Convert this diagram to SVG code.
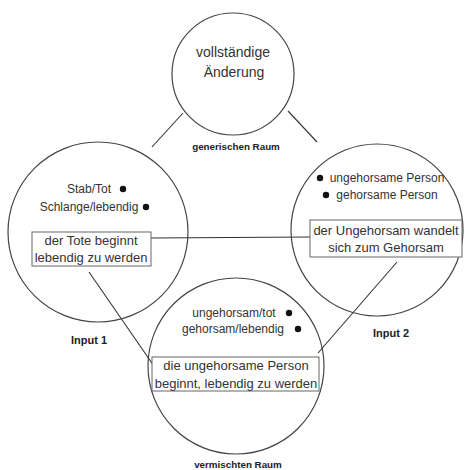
<svg xmlns="http://www.w3.org/2000/svg" width="466" height="470" viewBox="0 0 466 470">
<style>
.c{fill:none;stroke:#444;stroke-width:1.2}
.b{fill:#fff;stroke:#666;stroke-width:1}
.l{fill:none;stroke:#333;stroke-width:1.1}
text{font-family:"Liberation Sans",Arial,sans-serif;fill:#333;text-anchor:middle}
.t14{font-size:14px}
.t12{font-size:12px}
.t13{font-size:13px}
.lab{font-size:9.8px;font-weight:bold;fill:#222}
.inp{font-size:11px;font-weight:bold;fill:#222}
.d{fill:#111}
</style>
<rect width="466" height="470" fill="#fff"/>
<g id="connectors">
<line class="l" x1="183" y1="113" x2="152" y2="147"/>
<line class="l" x1="288" y1="111" x2="317" y2="142"/>
<line class="l" x1="151" y1="238" x2="310" y2="237"/>
<line class="l" x1="89" y1="272" x2="156" y2="369"/>
<line class="l" x1="397" y1="262" x2="318" y2="353"/>
</g>
<g id="generic">
<circle class="c" cx="233" cy="74" r="61"/>
<text class="t14" x="233" y="57">vollständige</text>
<text class="t14" x="234" y="77">Änderung</text>
<text class="lab" x="236" y="150">generischen Raum</text>
</g>
<g id="input1">
<circle class="c" cx="98" cy="232" r="90"/>
<text class="t12" x="89" y="193">Stab/Tot</text>
<circle class="d" cx="123" cy="189" r="3.2"/>
<text class="t12" x="89" y="211">Schlange/lebendig</text>
<circle class="d" cx="146" cy="207" r="3.2"/>
<rect class="b" x="32" y="232" width="119" height="34"/>
<text class="t13" x="91" y="245">der Tote beginnt</text>
<text class="t13" x="91" y="262">lebendig zu werden</text>
<text class="inp" x="89" y="344">Input 1</text>
</g>
<g id="input2">
<circle class="c" cx="377" cy="230" r="86"/>
<circle class="d" cx="320" cy="178" r="3.2"/>
<text class="t12" x="387" y="182">ungehorsame Person</text>
<circle class="d" cx="326" cy="195" r="3.2"/>
<text class="t12" x="387" y="199">gehorsame Person</text>
<rect class="b" x="310" y="220" width="152" height="37"/>
<text class="t13" x="386" y="235">der Ungehorsam wandelt</text>
<text class="t13" x="386" y="252">sich zum Gehorsam</text>
<text class="inp" x="391" y="337">Input 2</text>
</g>
<g id="blend">
<circle class="c" cx="236" cy="366" r="88"/>
<text class="t12" x="234" y="317">ungehorsam/tot</text>
<circle class="d" cx="289" cy="313" r="3.2"/>
<text class="t12" x="233" y="333">gehorsam/lebendig</text>
<circle class="d" cx="298" cy="329" r="3.2"/>
<rect class="b" x="152" y="357" width="167" height="34"/>
<text class="t13" x="236" y="370">die ungehorsame Person</text>
<text class="t13" x="236" y="388">beginnt, lebendig zu werden</text>
<text class="lab" x="238" y="468">vermischten Raum</text>
</g>
</svg>
